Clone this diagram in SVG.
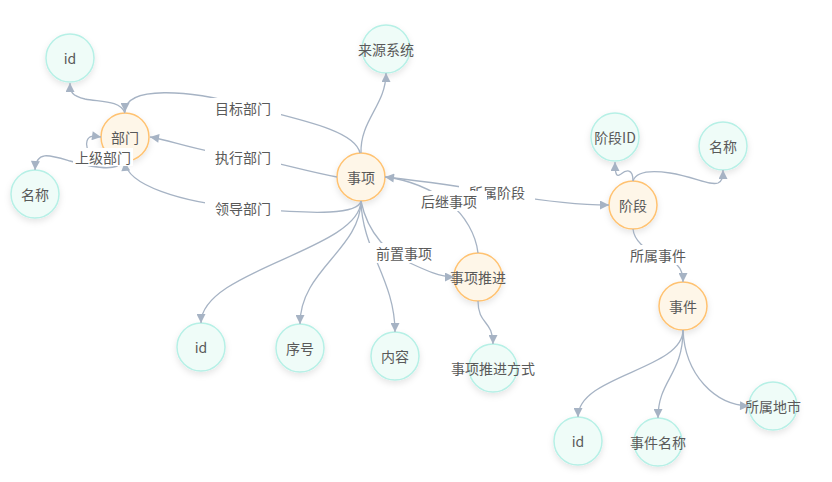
<svg xmlns="http://www.w3.org/2000/svg" width="832" height="482" viewBox="0 0 832 482">
<defs>
<filter id="sh" x="-50%" y="-50%" width="200%" height="200%">
<feDropShadow dx="0" dy="3" stdDeviation="3" flood-color="#000" flood-opacity="0.1"/>
</filter>
<marker id="arr" viewBox="0 0 10 10" refX="10" refY="5" markerWidth="10" markerHeight="9" orient="auto" markerUnits="userSpaceOnUse">
<path d="M0,0 L10,5 L0,10 Z" fill="#a6b3c4"/>
</marker>
<style>
.e{fill:none;stroke:#a6b3c4;stroke-width:1.3;marker-end:url(#arr)}
.lb{fill:#fff}
.t{font-family:"Noto Sans CJK SC","Liberation Sans",sans-serif;font-size:14px;fill:#595959;text-anchor:middle;dominant-baseline:central}
.a circle{fill:#fef6e8;stroke:#ffc271;stroke-width:1.5;filter:url(#sh)}
.b circle{fill:#effcf8;stroke:#b6f0e6;stroke-width:1.5;filter:url(#sh)}
</style>
</defs>
<rect width="832" height="482" fill="#fff"/>
<g id="nodes">
<g id="n-bumen" class="a"><circle cx="125" cy="137" r="24"/><text class="t" x="125" y="137">部门</text></g>
<g id="n-shixiang" class="a"><circle cx="361" cy="177" r="24"/><text class="t" x="361" y="177">事项</text></g>
<g id="n-tuijin" class="a"><circle cx="478" cy="277" r="24"/><text class="t" x="478" y="277">事项推进</text></g>
<g id="n-jieduan" class="a"><circle cx="633" cy="205" r="24"/><text class="t" x="633" y="205">阶段</text></g>
<g id="n-shijian" class="a"><circle cx="683" cy="306" r="24"/><text class="t" x="683" y="306">事件</text></g>
<g id="n-bm-id" class="b"><circle cx="70" cy="58" r="24"/><text class="t" x="70" y="58">id</text></g>
<g id="n-bm-mc" class="b"><circle cx="35" cy="194" r="24"/><text class="t" x="35" y="194">名称</text></g>
<g id="n-lyxt" class="b"><circle cx="386" cy="49" r="24"/><text class="t" x="386" y="49">来源系统</text></g>
<g id="n-sx-id" class="b"><circle cx="201" cy="347" r="24"/><text class="t" x="201" y="347">id</text></g>
<g id="n-xh" class="b"><circle cx="300" cy="348" r="24"/><text class="t" x="300" y="348">序号</text></g>
<g id="n-nr" class="b"><circle cx="395" cy="356" r="24"/><text class="t" x="395" y="356">内容</text></g>
<g id="n-tjfs" class="b"><circle cx="493" cy="368" r="24"/><text class="t" x="493" y="368">事项推进方式</text></g>
<g id="n-jdid" class="b"><circle cx="615" cy="137" r="24"/><text class="t" x="615" y="137">阶段ID</text></g>
<g id="n-jd-mc" class="b"><circle cx="723" cy="146" r="24"/><text class="t" x="723" y="146">名称</text></g>
<g id="n-sj-id" class="b"><circle cx="578" cy="441" r="24"/><text class="t" x="578" y="441">id</text></g>
<g id="n-sjmc" class="b"><circle cx="658" cy="442" r="24"/><text class="t" x="658" y="442">事件名称</text></g>
<g id="n-ssds" class="b"><circle cx="773" cy="406" r="24"/><text class="t" x="773" y="406">所属地市</text></g>
</g>
<g id="connectors">
<path class="e" d="M125,113 C120,100 100,102 85,99 C72,96 70,92 70,83"/>
<path class="e" d="M122,161 C118,172 95,168 70,161 C50,155 36,150 35,170"/>
<path class="e" d="M361,153 C360,120 386,105 386,73"/>
<path class="e" d="M361,201 C360,250 201,270 201,323"/>
<path class="e" d="M361,201 C360,250 300,270 300,324"/>
<path class="e" d="M361,201 C362,250 395,280 395,332"/>
<path class="e" d="M478,301 C478,325 493,320 493,344"/>
<path class="e" d="M633,181 C633,168 626,170 621,174 C617,177 615,176 615,162"/>
<path class="e" d="M633,181 C636,172 650,170 670,173 C695,177 710,186 718,183 C722,181 723,178 723,170"/>
<path class="e" d="M683,330 C683,370 578,375 578,417"/>
<path class="e" d="M683,330 C683,375 658,380 658,418"/>
<path class="e" d="M683,330 C685,375 715,405 749,406"/>

<path class="e" d="M360,153 C355,130 300,120 243,105 C190,90 125,85 125,112"/>
<rect class="lb" x="205" y="98" width="76" height="20"/>
<text class="t" x="243" y="108">目标部门</text>

<path class="e" d="M337,177 C300,170 270,160 243,157 C200,152 170,140 150,137"/>
<rect class="lb" x="205" y="147" width="76" height="20"/>
<text class="t" x="243" y="157">执行部门</text>

<path class="e" d="M361,201 C358,214 320,215 243,208 C180,202 127,185 125,162"/>
<rect class="lb" x="205" y="198" width="76" height="20"/>
<text class="t" x="243" y="208">领导部门</text>

<path class="e" d="M108,154 C95,162 84,150 87,141 C89,135 94,136 101,137"/>
<rect class="lb" x="73" y="148" width="60" height="18"/>
<text class="t" x="103" y="157">上级部门</text>

<path class="e" d="M361,201 C368,235 390,255 410,263 C425,270 440,277 454,277"/>
<rect class="lb" x="366" y="243" width="76" height="20"/>
<text class="t" x="404" y="253">前置事项</text>

<path class="e" d="M385,177 C430,182 470,188 497,193 C530,199 570,205 609,205"/>
<rect class="lb" x="459" y="182" width="76" height="20"/>
<text class="t" x="497" y="192">所属阶段</text>

<path class="e" d="M478,253 C476,235 465,215 449,203 C430,188 410,180 385,177"/>
<rect class="lb" x="411" y="191" width="76" height="20"/>
<text class="t" x="449" y="201">后继事项</text>

<path class="e" d="M633,229 C634,240 645,250 658,255 C675,262 683,265 683,282"/>
<rect class="lb" x="620" y="245" width="76" height="20"/>
<text class="t" x="658" y="255">所属事件</text>
</g>
</svg>
